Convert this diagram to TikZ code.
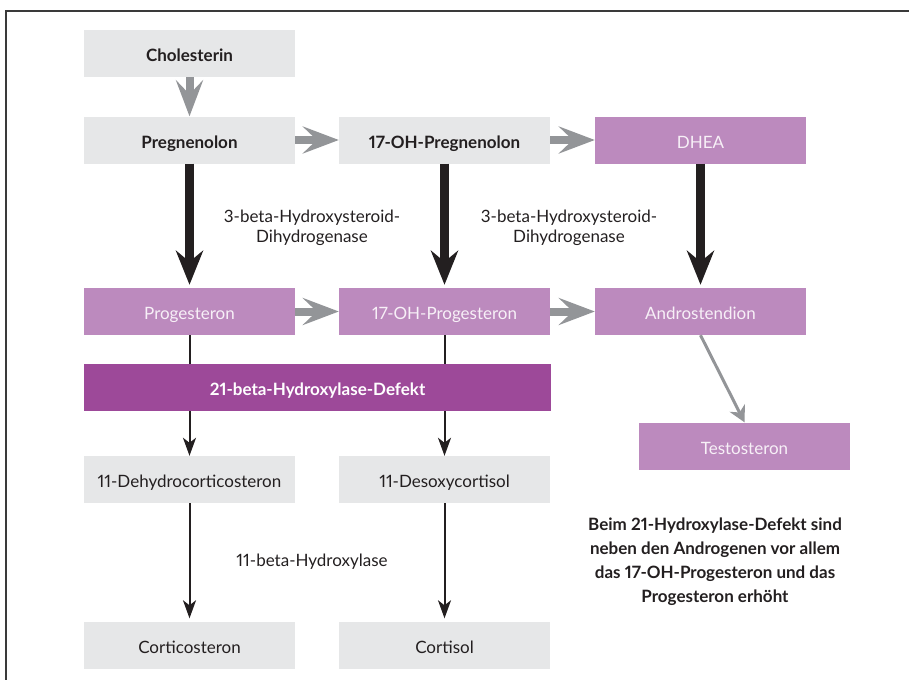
\documentclass[tikz,border=0pt]{standalone}
\usepackage{fontspec}
\setmainfont{Lato}[Numbers=Proportional]
\usetikzlibrary{arrows.meta}
\definecolor{boxgray}{HTML}{E6E7E8}
\definecolor{lilac}{HTML}{BC8ABE}
\definecolor{darkpurple}{HTML}{9D4999}
\definecolor{arrgray}{HTML}{939598}
\definecolor{ink}{HTML}{231F20}
\definecolor{framecol}{HTML}{3A3A3A}
\definecolor{palewhite}{HTML}{F7F0F7}
\begin{document}
\begin{tikzpicture}[x=1pt,y=-1pt,
  txt/.style={font=\fontsize{17}{20}\selectfont,text=ink},
  boldtxt/.style={font=\fontsize{17}{20}\selectfont\bfseries,text=ink},
  box/.style={minimum width=211pt,minimum height=47pt,inner sep=0pt,text height=16pt,text depth=0pt},
  graybox/.style={box,fill=boxgray,txt},
  graybold/.style={box,fill=boxgray,boldtxt},
  purplebox/.style={box,fill=lilac,txt,text=palewhite},
  barbox/.style={box,minimum width=467pt,fill=darkpurple,boldtxt,text=white},
  grayarrow/.style={draw=arrgray,line width=8pt,-{Stealth[length=36pt,width=27pt,inset=14pt]}},
  blackarrow/.style={draw=ink,line width=9pt,shorten >=3pt,-{Stealth[length=34pt,width=27pt,inset=11pt]}},
  thinline/.style={draw=ink,line width=2pt},
  thinarrow/.style={thinline,-{Stealth[length=18pt,width=13pt,inset=5pt]}},
  diagarrow/.style={draw=arrgray,line width=3pt,-{Stealth[length=16pt,width=17pt,inset=5pt]}},
  label/.style={txt,align=center},
  note/.style={boldtxt,align=center,font=\fontsize{17}{24}\selectfont\bfseries}
]
\useasboundingbox (0,0) rectangle (909,680);
\draw[framecol,line width=1.5pt] (909,11) -- (6,11) -- (6,680);

\node[graybold] (chol) at (189.5,53.5) {Cholesterin};
\node[graybold] (preg) at (189.5,140) {Pregnenolon};
\node[graybold] (ohpreg) at (444.5,140) {17-OH-Pregnenolon};
\node[purplebox] (dhea) at (700.5,140) {DHEA};
\node[purplebox] (prog) at (189.5,311.5) {Progesteron};
\node[purplebox] (ohprog) at (444.5,311.5) {17-OH-Progesteron};
\node[purplebox] (andro) at (700.5,311.5) {Androstendion};
\node[barbox] (bar) at (317.5,387.5) {21-beta-Hydroxylase-Defekt};
\node[graybox] (dehyd) at (189.5,479.5) {11-Dehydrocorticosteron};
\node[graybox] (desoxy) at (444.5,479.5) {11-Desoxycortisol};
\node[graybox] (cortico) at (189.5,645) {Corticosteron};
\node[graybox] (cortisol) at (444.5,645) {Cortisol};
\node[purplebox] (testo) at (744.5,446) {Testosteron};

\node[label] (lab1) at (312,228) {3-beta-Hydroxysteroid-\\Dihydrogenase};
\node[label] (lab2) at (569,228) {3-beta-Hydroxysteroid-\\Dihydrogenase};
\node[label] (lab3) at (312,562) {11-beta-Hydroxylase};
\node[note] (note) at (715,562) {Beim 21-Hydroxylase-Defekt sind\\neben den Androgenen vor allem\\das 17-OH-Progesteron und das\\Progesteron erhöht};

\draw[grayarrow] (chol) -- (preg);
\draw[grayarrow] (preg) -- (ohpreg);
\draw[grayarrow] (ohpreg) -- (dhea);
\draw[grayarrow] (prog) -- (ohprog);
\draw[grayarrow] (ohprog) -- (andro);

\draw[blackarrow] (preg) -- (prog);
\draw[blackarrow] (ohpreg) -- (ohprog);
\draw[blackarrow] (dhea) -- (andro);

\draw[thinline] (prog) -- (prog |- bar.north);
\draw[thinline] (ohprog) -- (ohprog |- bar.north);
\draw[thinarrow] (bar.south -| dehyd) -- (dehyd);
\draw[thinarrow] (bar.south -| desoxy) -- (desoxy);
\draw[thinarrow,shorten >=3pt] (dehyd) -- (cortico);
\draw[thinarrow,shorten >=3pt] (desoxy) -- (cortisol);

\draw[diagarrow] (andro.south) -- (testo.north);
\end{tikzpicture}
\end{document}
